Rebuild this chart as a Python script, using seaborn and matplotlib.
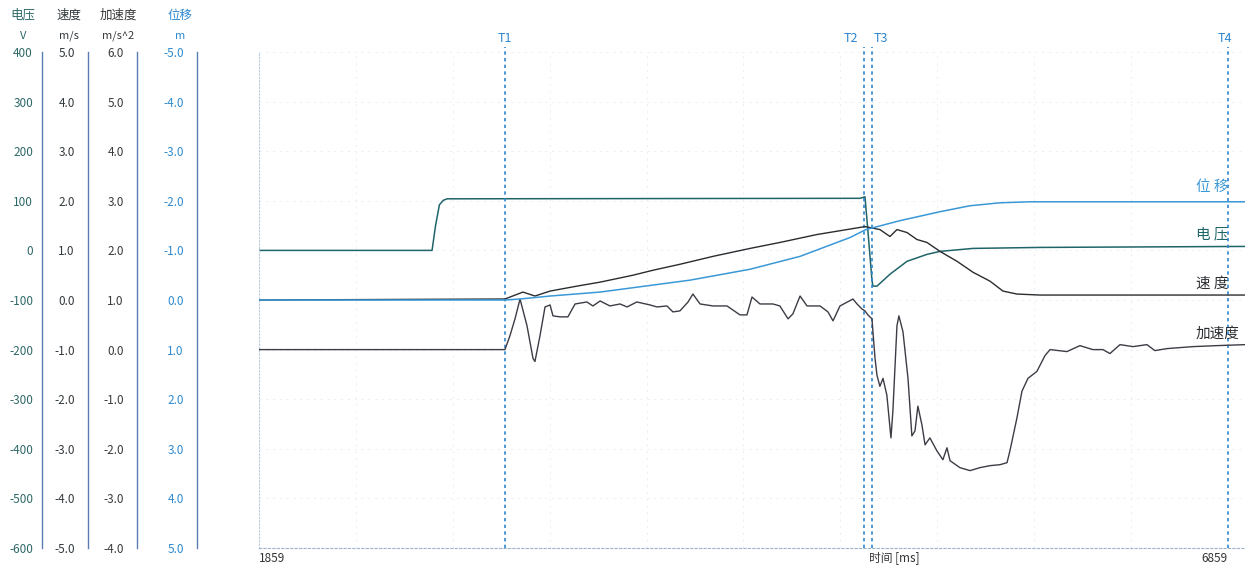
import numpy as np
import matplotlib
matplotlib.use("Agg")
import matplotlib.pyplot as plt
import seaborn as sns

# time axis (ms)
t_start, t_end, t_max = 1859, 6859, 6947

# voltage (V)
volt_t = [1859, 2752, 2770, 2790, 2810, 2830, 4960, 4986, 5001, 5022, 5027, 5048,
          5115, 5203, 5306, 5373, 5543, 5889, 6947]
volt_v = [0, 0, 50, 92, 101, 104, 105, 108, 40, -60, -72, -72,
          -48, -22, -8, -2, 4, 6, 8]

# speed (m/s)
speed_t = [1859, 3128, 3221, 3283, 3361, 3500, 3619, 3789, 3892, 4031, 4202, 4393,
           4547, 4738, 4893, 4986, 5063, 5115, 5151, 5203, 5254, 5306, 5373, 5461,
           5543, 5631, 5698, 5770, 5889, 6947]
speed_v = [0.0, 0.02, 0.16, 0.08, 0.18, 0.28, 0.36, 0.50, 0.60, 0.72, 0.88, 1.04,
           1.16, 1.32, 1.42, 1.48, 1.42, 1.28, 1.42, 1.36, 1.22, 1.16, 0.98, 0.78,
           0.56, 0.38, 0.18, 0.12, 0.10, 0.10]

# acceleration (m/s^2)
acc_t = [1859, 3128, 3154, 3180, 3206, 3242, 3273, 3283, 3309, 3335, 3361, 3376,
         3412, 3453, 3490, 3551, 3582, 3619, 3670, 3722, 3758, 3809, 3877, 3913,
         3964, 3995, 4031, 4073, 4098, 4135, 4202, 4274, 4341, 4377, 4403, 4444,
         4511, 4547, 4589, 4614, 4651, 4687, 4754, 4795, 4821, 4857, 4924, 4945,
         4970, 4986, 5001, 5022, 5027, 5038, 5048, 5063, 5079, 5099, 5120, 5130,
         5151, 5161, 5182, 5208, 5228, 5244, 5259, 5280, 5296, 5321, 5357, 5388,
         5409, 5425, 5476, 5528, 5579, 5631, 5683, 5719, 5734, 5770, 5796, 5827,
         5873, 5915, 5941, 6028, 6095, 6162, 6214, 6250, 6302, 6369, 6441, 6482,
         6544, 6678, 6802, 6947]
acc_v = [0.0, 0.0, 0.28, 0.62, 1.02, 0.48, -0.18, -0.24, 0.28, 0.86, 0.90, 0.68,
         0.66, 0.66, 0.92, 0.96, 0.88, 0.98, 0.88, 0.92, 0.86, 0.96, 0.90, 0.86,
         0.88, 0.76, 0.78, 0.96, 1.12, 0.92, 0.88, 0.88, 0.70, 0.70, 1.06, 0.92,
         0.92, 0.88, 0.62, 0.72, 1.08, 0.88, 0.88, 0.76, 0.58, 0.88, 1.02, 0.92,
         0.82, 0.78, 0.70, 0.62, 0.36, -0.18, -0.52, -0.74, -0.58, -0.92, -1.78, -1.24,
         0.48, 0.68, 0.36, -0.58, -1.74, -1.64, -1.14, -1.52, -1.92, -1.78, -2.04, -2.22,
         -1.98, -2.24, -2.38, -2.44, -2.38, -2.34, -2.32, -2.28, -2.04, -1.38, -0.84, -0.58,
         -0.44, -0.12, 0.0, -0.04, 0.08, 0.0, 0.0, -0.08, 0.10, 0.06, 0.10, -0.02,
         0.02, 0.06, 0.08, 0.10]

# displacement (m), axis runs -5 (top) to 5 (bottom)
disp_t = [1859, 3128, 3206, 3361, 3619, 4083, 4393, 4651, 4909, 4991, 5167, 5373,
          5528, 5683, 5837, 6947]
disp_v = [0.0, 0.0, -0.02, -0.08, -0.16, -0.40, -0.62, -0.88, -1.26, -1.42, -1.60, -1.78,
          -1.90, -1.96, -1.98, -1.98]

cursor_names = ["T1", "T2", "T3", "T4"]
cursor_t = [3128, 4981, 5022, 6859]

c_volt = "#1f6468"
c_speed = "#2a2d30"
c_acc = "#3f3b45"
c_disp = "#3a98d6"
c_axis = "#5a7db3"
c_cursor = "#2f86d0"

sns.set_style("white")
plt.rcParams["font.family"] = ["Noto Sans CJK SC", "DejaVu Sans"]

W, H = 1249, 569
fig = plt.figure(figsize=(W / 100, H / 100), dpi=100)
y_top, y_bot = 52, 548

ax = fig.add_axes([259 / W, 1 - y_bot / H, (1245 - 259) / W, (y_bot - y_top) / H])
ax_spd = ax.twinx()
ax_acc = ax.twinx()
ax_dsp = ax.twinx()

sns.lineplot(x=volt_t, y=volt_v, ax=ax, color=c_volt, linewidth=1.1)
sns.lineplot(x=speed_t, y=speed_v, ax=ax_spd, color=c_speed, linewidth=1.0)
sns.lineplot(x=acc_t, y=acc_v, ax=ax_acc, color=c_acc, linewidth=1.0)
sns.lineplot(x=disp_t, y=disp_v, ax=ax_dsp, color=c_disp, linewidth=1.1)

ax.set_ylim(-600, 400)
ax_spd.set_ylim(-5, 5)
ax_acc.set_ylim(-4, 6)
ax_dsp.set_ylim(5, -5)
for a in (ax_spd, ax_acc, ax_dsp):
    a.axis("off")
ax.set_xlim(t_start, t_max)

# grid and frame
ax.set_xticks([t_start, t_end])
ax.set_xticklabels([str(t_start), str(t_end)], fontsize=8.5, color="#333333")
ax.set_xticks(np.arange(t_start, t_max, 500), minor=True)
ax.set_yticks(np.arange(-600, 401, 100))
ax.tick_params(axis="y", length=0, labelleft=False)
ax.tick_params(axis="x", which="both", length=0, pad=3)
labels = ax.get_xticklabels()
labels[0].set_ha("left")
labels[1].set_ha("right")
ax.grid(True, which="minor", axis="x", color="#e8eef5", linewidth=0.7, linestyle=(0, (2, 5)))
ax.grid(True, which="major", axis="y", color="#e8eef5", linewidth=0.7, linestyle=(0, (2, 5)))
ax.set_xlabel("")
ax.set_ylabel("")
for s in ("top", "right"):
    ax.spines[s].set_visible(False)
ax.spines["left"].set_color("#b7c9e0")
ax.spines["left"].set_linestyle((0, (1, 2)))
ax.spines["bottom"].set_color("#9fb2cc")
ax.spines["bottom"].set_linestyle((0, (2, 2)))

fig.text(869 / W, 1 - 558 / H, "时间 [ms]", fontsize=8.5, color="#333333",
         ha="left", va="center")

# cursors
for name, t in zip(cursor_names, cursor_t):
    ax.axvline(t, ymin=0, ymax=1.01, color=c_cursor, linewidth=1.2,
               linestyle=(0, (2, 2)), clip_on=False)
offsets = {"T1": (0, "center"), "T2": (-4, "right"), "T3": (1, "left"), "T4": (-2, "center")}
for name, t in zip(cursor_names, cursor_t):
    dx, ha = offsets[name]
    ax.annotate(name, xy=(t, 1), xycoords=("data", "axes fraction"),
                xytext=(dx, 10), textcoords="offset points",
                ha=ha, va="center", fontsize=9, color=c_cursor)

# series labels at right
right_labels = [("位 移", 187, c_disp), ("电 压", 234, c_volt),
                ("速 度", 284, c_speed), ("加速度", 334, c_speed)]
for txt, yy, col in right_labels:
    fig.text(1196 / W, 1 - yy / H, txt, fontsize=10.5, color=col, ha="left", va="center")

# left scales
scales = [
    dict(x=42, lim=(-600, 400), ticks=np.arange(-600, 401, 100), fmt="{:.0f}",
         head="电压", unit="V", col="#2e6767", pad=5),
    dict(x=88, lim=(-5, 5), ticks=np.arange(-5, 5.1, 1), fmt="{:.1f}",
         head="速度", unit="m/s", col="#333a3e", pad=8),
    dict(x=137, lim=(-4, 6), ticks=np.arange(-4, 6.1, 1), fmt="{:.1f}",
         head="加速度", unit="m/s^2", col="#3a3a3a", pad=8),
    dict(x=197, lim=(5, -5), ticks=np.arange(-5, 5.1, 1), fmt="{:.1f}",
         head="位移", unit="m", col="#2f8ad0", pad=8),
]
for sc in scales:
    sax = fig.add_axes([sc["x"] / W, 1 - y_bot / H, 0.0005, (y_bot - y_top) / H])
    sax.set_ylim(*sc["lim"])
    sax.set_yticks(sc["ticks"])
    sax.set_yticklabels([sc["fmt"].format(v + 0.0) for v in sc["ticks"]],
                        fontsize=8.5, color=sc["col"])
    sax.set_xticks([])
    sax.patch.set_alpha(0)
    for s in ("top", "right", "bottom"):
        sax.spines[s].set_visible(False)
    sax.spines["left"].set_color(c_axis)
    sax.spines["left"].set_linewidth(1.0)
    sax.tick_params(axis="y", length=3, width=0.8, direction="inout",
                    color=c_axis, pad=sc["pad"])
    hx = (sc["x"] - 19) / W if sc["x"] != 197 else (sc["x"] - 17) / W
    fig.text(hx, 1 - 15 / H, sc["head"], fontsize=9, color=sc["col"], ha="center", va="center")
    fig.text(hx, 1 - 36 / H, sc["unit"], fontsize=8, color=sc["col"], ha="center", va="center")

fig.savefig("out.png", dpi=100)
